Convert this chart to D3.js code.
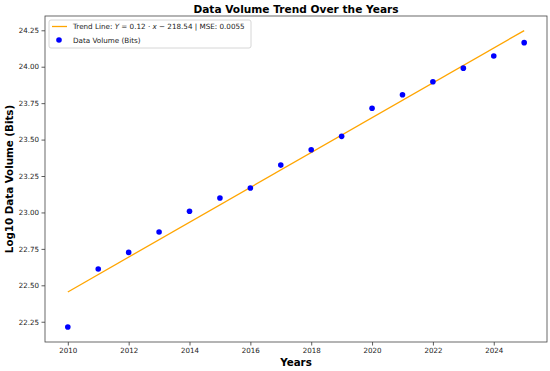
<!DOCTYPE html>
<html>
<head>
<meta charset="utf-8">
<script src="https://cdn.jsdelivr.net/npm/d3@7"></script>
<style>
  body { margin: 0; background: #fff; }
  svg { font-family: "DejaVu Sans", sans-serif; }
</style>
</head>
<body>
<svg id="chart" width="550" height="371"></svg>
<script>
// data
const years = [2010, 2011, 2012, 2013, 2014, 2015, 2016, 2017, 2018, 2019, 2020, 2021, 2022, 2023, 2024, 2025];
const logVolume = [22.214, 22.612, 22.726, 22.866, 23.008, 23.099, 23.168, 23.325, 23.430, 23.522, 23.715, 23.808, 23.897, 23.990, 24.074, 24.165];
const xTicks = [2010, 2012, 2014, 2016, 2018, 2020, 2022, 2024];
const yTicks = [22.25, 22.5, 22.75, 23.0, 23.25, 23.5, 23.75, 24.0, 24.25];
const trendLabel = ['Trend Line: ', 'Y', ' = 0.12 \u00b7 ', 'x', ' \u2212 218.54 | MSE: 0.0055'];
const pointLabel = 'Data Volume (Bits)';

const margin = { top: 16, right: 3, bottom: 29, left: 45 };
const svg = d3.select('#chart');
const width = +svg.attr('width') - margin.left - margin.right;
const height = +svg.attr('height') - margin.top - margin.bottom;

// least squares fit for the trend line
const n = years.length;
const mx = d3.mean(years);
const my = d3.mean(logVolume);
const slope = d3.sum(years, (d, i) => (d - mx) * (logVolume[i] - my)) / d3.sum(years, (d) => (d - mx) ** 2);
const intercept = my - slope * mx;
const trend = [years[0], years[n - 1]].map((x) => [x, slope * x + intercept]);

const x = d3.scaleLinear().domain([2009.25, 2025.75]).range([0, width]);
const y = d3.scaleLinear().domain([22.111, 24.348]).range([height, 0]);

const g = svg.append('g').attr('transform', `translate(${margin.left},${margin.top})`);

const xAxis = g.append('g')
  .attr('transform', `translate(0,${height})`)
  .call(d3.axisBottom(x).tickValues(xTicks).tickFormat(d3.format('d')).tickSize(3.5).tickPadding(2.5));
const yAxis = g.append('g')
  .call(d3.axisLeft(y).tickValues(yTicks).tickFormat(d3.format('.2f')).tickSize(3.5).tickPadding(2.5));

[xAxis, yAxis].forEach((ax) => {
  ax.select('.domain').remove();
  ax.selectAll('.tick line').attr('stroke', '#333').attr('stroke-width', 0.8);
  ax.selectAll('.tick text').attr('fill', '#222').style('font-size', '7.1px').style('font-family', '"DejaVu Sans"');
});

g.append('rect')
  .attr('width', width).attr('height', height)
  .attr('fill', 'none').attr('stroke', '#444').attr('stroke-width', 0.8);

g.append('path')
  .datum(trend)
  .attr('fill', 'none')
  .attr('stroke', 'orange')
  .attr('stroke-width', 1.3)
  .attr('d', d3.line().x((d) => x(d[0])).y((d) => y(d[1])));

g.selectAll('.pt')
  .data(years)
  .enter()
  .append('circle')
  .attr('class', 'pt')
  .attr('cx', (d) => x(d))
  .attr('cy', (d, i) => y(logVolume[i]))
  .attr('r', 2.8)
  .attr('fill', 'blue');

// legend
const legend = g.append('g').attr('transform', 'translate(4,4)');
legend.append('rect')
  .attr('width', 202).attr('height', 28).attr('rx', 2)
  .attr('fill', '#fff').attr('fill-opacity', 0.8)
  .attr('stroke', '#ccc').attr('stroke-width', 0.8);
legend.append('line')
  .attr('x1', 3).attr('x2', 18).attr('y1', 6.5).attr('y2', 6.5)
  .attr('stroke', 'orange').attr('stroke-width', 1.3);
const t1 = legend.append('text').attr('x', 24).attr('y', 9).style('font-size', '7.2px').attr('fill', '#222');
trendLabel.forEach((s, i) => {
  t1.append('tspan').text(s).style('font-style', i === 1 || i === 3 ? 'italic' : 'normal');
});
legend.append('circle').attr('cx', 10).attr('cy', 20).attr('r', 2.8).attr('fill', 'blue');
legend.append('text').attr('x', 24).attr('y', 22.5).style('font-size', '7.2px').attr('fill', '#222').text(pointLabel);

svg.append('text')
  .attr('x', margin.left + width / 2).attr('y', 12.7)
  .attr('text-anchor', 'middle')
  .style('font-size', '10.6px').style('font-weight', 'bold')
  .text('Data Volume Trend Over the Years');

svg.append('text')
  .attr('x', margin.left + width / 2).attr('y', 366)
  .attr('text-anchor', 'middle')
  .style('font-size', '10.3px').style('font-weight', 'bold')
  .text('Years');

svg.append('text')
  .attr('transform', `translate(13,${margin.top + height / 2}) rotate(-90)`)
  .attr('text-anchor', 'middle')
  .style('font-size', '10.3px').style('font-weight', 'bold')
  .text('Log10 Data Volume (Bits)');
</script>
</body>
</html>
